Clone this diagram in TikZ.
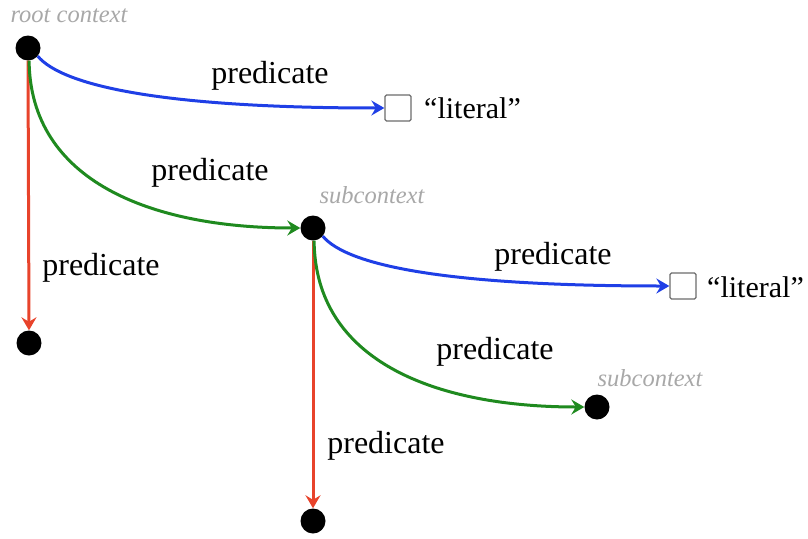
\documentclass[tikz,border=0pt]{standalone}
\usepackage{fontspec}
\setmainfont{Liberation Serif}
\usetikzlibrary{arrows.meta}
\definecolor{eblue}{HTML}{1F3FE6}
\definecolor{egreen}{HTML}{1F8A1F}
\definecolor{ered}{HTML}{E8432B}
\definecolor{lgray}{HTML}{A8A8A8}
\tikzset{
  ctx/.style={circle, fill=black, minimum size=25pt, inner sep=0pt},
  lit/.style={draw=gray!85!black, fill=white, minimum size=26pt, inner sep=0pt, line width=1.3pt, rounded corners=1.5pt},
  edge/.style={line width=3pt, -{Stealth[length=13pt,width=15pt,inset=4.5pt]}},
  bedge/.style={edge, eblue},
  gedge/.style={edge, egreen},
  redge/.style={edge, ered},
  lbl/.style={font=\fontsize{32}{36}\selectfont, inner sep=0pt},
  litlbl/.style={font=\fontsize{30}{34}\selectfont, inner sep=0pt, anchor=west},
  clbl/.style={font=\fontsize{24.5}{28}\selectfont\itshape, text=lgray, inner sep=0pt},
}
\begin{document}
\begin{tikzpicture}[x=1pt,y=-1pt]
\useasboundingbox (0,0) rectangle (808,538);
% nodes
\node[ctx] (R) at (28,48) {};
\node[ctx] (B1) at (29,343) {};
\node[ctx] (S1) at (313,228) {};
\node[ctx] (B2) at (313,521) {};
\node[ctx] (S2) at (597,407) {};
\node[lit] (L1) at (398,108) {};
\node[lit] (L2) at (683,286) {};
% text labels
\node[clbl] (cr) at (69,16) {root context};
\node[clbl] (cs1) at (372,195) {subcontext};
\node[clbl] (cs2) at (650,378) {subcontext};
\node[litlbl] (t1) at (424,108) {“literal”};
\node[litlbl] (t2) at (707,287) {“literal”};
\node[lbl] (p1) at (270,76) {predicate};
\node[lbl] (p2) at (210,173) {predicate};
\node[lbl] (p3) at (101,268) {predicate};
\node[lbl] (p4) at (553,257) {predicate};
\node[lbl] (p5) at (495,352) {predicate};
\node[lbl] (p6) at (386,446) {predicate};
% edges
\draw[redge] (R.south) -- (B1.north);
\draw[redge] (S1.south) -- (B2.north);
\draw[gedge] (R.-85) .. controls +(1,120) and +(-150,0) .. (S1.west);
\draw[gedge] (S1.-85) .. controls +(1,120) and +(-150,0) .. (S2.west);
\draw[bedge] (R.-40) .. controls +(25,30) and +(-220,0) .. (L1.west);
\draw[bedge] (S1.-40) .. controls +(25,30) and +(-220,0) .. (L2.west);
\end{tikzpicture}
\end{document}
